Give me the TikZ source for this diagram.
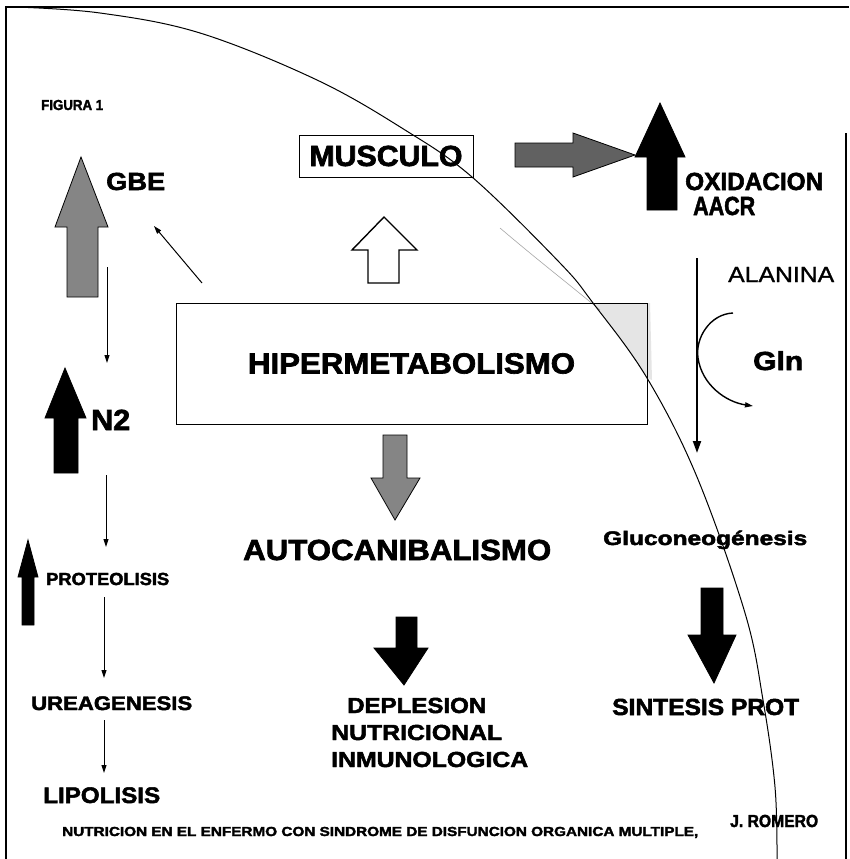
\documentclass[tikz,border=0pt]{standalone}
\usepackage{fontspec}
\setmainfont{Liberation Sans}
\newfontfamily\heavy{Liberation Sans}[UprightFont={* Bold}, FakeBold=2.2]
\newfontfamily\medium{Liberation Sans}[FakeBold=1.2]
\usetikzlibrary{arrows.meta}
\newcommand\tx[3]{\resizebox{#1pt}{#2pt}{\smash{#3}\rule{0pt}{\fontcharht\font`H}}}
\tikzset{
  lbl/.style={inner sep=0pt, anchor=base west, font=\heavy},
  lblr/.style={inner sep=0pt, anchor=base west, font=\medium},
  boxn/.style={draw, line width=1pt, inner sep=0pt, font=\heavy},
  thinarr/.style={line width=1pt, -{Triangle[length=8pt,width=5pt]}},
  thickarr/.style={line width=2pt, -{Triangle[length=12pt,width=8pt]}},
  blk/.style={fill=black, draw=black, line width=0.8pt, line join=miter},
  hatchA/.style={fill=black!62, draw=black, line width=0.8pt},
  hatchB/.style={fill=black!48, draw=black, line width=0.8pt},
  hollow/.style={fill=white, draw=black, line width=1.4pt},
  frame/.style={line width=1.5pt},
  arcline/.style={line width=1pt}
}
\begin{document}
\begin{tikzpicture}[x=1pt,y=-1pt]
\useasboundingbox (0,0) rectangle (849,859);
\fill[white] (0,0) rectangle (849,859);

% frame
\draw[frame] (5,7) -- (849,7);
\draw[frame] (6,7) -- (6,859);
\draw[frame] (846,133) -- (846,859);

% stippled region near the curve
\fill[black!10] (593,303) -- (650,303) -- (652,380) -- (647,378) -- (620,338) -- cycle;
\draw[black!35, line width=0.6pt] (500,228) .. controls (540,262) and (570,285) .. (600,310);

% big curve
\draw[arcline] plot[smooth, tension=0.6] coordinates {(15,7) (100,13) (200,33) (317,80) (405,130) (472,177) (560,263) (593,303) (647,378) (697,477) (745,613) (763,700) (775,787) (777,859)};

% boxes
\node[boxn, minimum width=174pt, minimum height=42pt] (musc) at (386,156) {\tx{153}{20}{MUSCULO}};
\node[boxn, minimum width=471pt, minimum height=121pt] (hiper) at (411.5,363.5) {\tx{327}{20}{HIPERMETABOLISMO}};

% labels
\node[lbl] (fig) at (41,110) {\tx{62}{10}{FIGURA 1}};
\node[lbl] (gbe) at (106,190) {\tx{59}{17}{GBE}};
\node[lbl] (oxi) at (685,190) {\tx{138}{17}{OXIDACION}};
\node[lbl] (aacr) at (693,215) {\tx{62}{18}{AACR}};
\node[lblr] (ala) at (728,282) {\tx{106}{15}{ALANINA}};
\node[lbl] (n2) at (91,430) {\tx{39}{20}{N2}};
\node[lbl] (gln) at (753,370) {\tx{50}{18}{Gln}};
\node[lbl] (auto) at (243,560) {\tx{308}{20}{AUTOCANIBALISMO}};
\node[lbl] (gluco) at (603,545) {\tx{204}{13.5}{Gluconeogénesis}};
\node[lbl] (prot) at (46,585) {\tx{123}{12}{PROTEOLISIS}};
\node[lbl] (urea) at (31,710) {\tx{161}{13.5}{UREAGENESIS}};
\node[lbl] (lipo) at (43,803) {\tx{117}{15.5}{LIPOLISIS}};
\node[lbl] (depl) at (347,713) {\tx{139}{15}{DEPLESION}};
\node[lbl] (nutr) at (331,740) {\tx{171}{15}{NUTRICIONAL}};
\node[lbl] (inmu) at (331,767) {\tx{197}{15}{INMUNOLOGICA}};
\node[lbl] (sint) at (612,715) {\tx{187}{16}{SINTESIS PROT}};
\node[lbl] (foot) at (62,836) {\tx{636}{9}{NUTRICION EN EL ENFERMO CON SINDROME DE DISFUNCION ORGANICA MULTIPLE,}};
\node[lbl] (autor) at (730,827) {\tx{88}{12}{J. ROMERO}};

% block arrows
\filldraw[hatchB] (67,297) -- (67,227) -- (55,227) -- (81,157) -- (108,227) -- (98,227) -- (98,297) -- cycle;
\filldraw[blk] (54,473) -- (54,418) -- (45,418) -- (65,368) -- (86,418) -- (78,418) -- (78,473) -- cycle;
\filldraw[blk] (22,625) -- (22,577) -- (18,577) -- (28,540) -- (38,577) -- (34,577) -- (34,625) -- cycle;
\filldraw[blk] (647,210) -- (647,157) -- (635,157) -- (660,103) -- (685,157) -- (677,157) -- (677,210) -- cycle;
\filldraw[hatchA] (515,143) -- (573,143) -- (573,133) -- (635,155) -- (573,177) -- (573,167) -- (515,167) -- cycle;
\filldraw[hollow] (368,283) -- (368,250) -- (352,250) -- (384,217) -- (417,250) -- (399,250) -- (399,283) -- cycle;
\filldraw[hatchB] (383,435) -- (407,435) -- (407,478) -- (420,478) -- (395,520) -- (371,478) -- (383,478) -- cycle;
\filldraw[blk] (396,617) -- (417,617) -- (417,648) -- (428,648) -- (404,685) -- (374,648) -- (396,648) -- cycle;
\filldraw[blk] (701,588) -- (723,588) -- (723,635) -- (736,635) -- (714,683) -- (688,635) -- (701,635) -- cycle;

% thin connectors
\coordinate (c1a) at (107,267); \coordinate (c1b) at (107,363);
\coordinate (c2a) at (202,283); \coordinate (c2b) at (154,226);
\coordinate (c3a) at (106,475); \coordinate (c3b) at (106,547);
\coordinate (c4a) at (104,597); \coordinate (c4b) at (104,678);
\coordinate (c5a) at (104,720); \coordinate (c5b) at (104,773);
\coordinate (c6a) at (697,258); \coordinate (c6b) at (697,453);
\coordinate (c7a) at (733,313); \coordinate (c7m) at (698,358); \coordinate (c7b) at (753,406);
\draw[thinarr] (c1a) -- (c1b);
\draw[thinarr] (c2a) -- (c2b);
\draw[thinarr] (c3a) -- (c3b);
\draw[thinarr] (c4a) -- (c4b);
\draw[thinarr] (c5a) -- (c5b);
\draw[thickarr] (c6a) -- (c6b);
\draw[thinarr, line width=1.4pt] (c7a) .. controls (710,314) and (695,338) .. (c7m) .. controls (702,385) and (726,402) .. (c7b);
\end{tikzpicture}
\end{document}
